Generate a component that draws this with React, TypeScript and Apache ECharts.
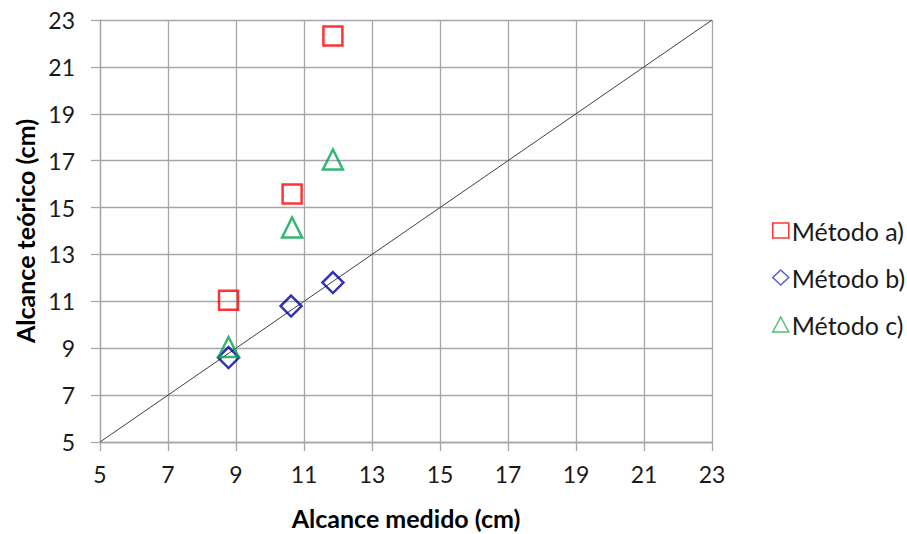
import React, { useEffect, useRef } from "react";
import * as echarts from "echarts";

const xTicks = [5, 7, 9, 11, 13, 15, 17, 19, 21, 23];
const metodoA: [number, number][] = [[8.78, 11.05], [10.65, 15.58], [11.85, 22.32]];
const metodoB: [number, number][] = [[8.78, 8.6], [10.62, 10.8], [11.85, 11.8]];
const metodoC: [number, number][] = [[8.78, 9.05], [10.65, 14.15], [11.85, 17.05]];
const identity: [number, number][] = [[5, 5], [23, 23]];

const FONT = "Lato";

export default function App() {
  const ref = useRef<HTMLDivElement>(null);
  useEffect(() => {
    if (!ref.current) return;
    const chart = echarts.init(ref.current, null, { renderer: "svg" });
    const axisCommon = {
      type: "value",
      min: xTicks[0],
      max: xTicks[xTicks.length - 1],
      interval: 2,
      axisLine: { show: true, lineStyle: { color: "#a6a6a6", width: 1.3 } },
      axisTick: { show: true, length: 9, lineStyle: { color: "#a6a6a6", width: 1.3 } },
      splitLine: { show: true, lineStyle: { color: "#a6a6a6", width: 1.3 } },
      nameLocation: "middle",
      nameTextStyle: { color: "#000", fontSize: 25, lineHeight: 24, fontWeight: "bold", fontFamily: FONT },
    };
    chart.setOption({
      animation: false,
      backgroundColor: "#fff",
      grid: { left: 100, right: 195, top: 20, bottom: 92, containLabel: false, outerBoundsMode: "none" },
      xAxis: {
        ...axisCommon,
        name: "Alcance medido (cm)",
        nameGap: 64,
        axisLabel: { color: "#1a1a1a", fontSize: 23, fontFamily: FONT, margin: 20 },
      },
      yAxis: {
        ...axisCommon,
        name: "Alcance teórico (cm)",
        nameGap: 62,
        axisLabel: { color: "#1a1a1a", fontSize: 23, fontFamily: FONT, margin: 25 },
      },
      legend: {
        orient: "vertical",
        left: 767,
        top: 213,
        itemGap: 22,
        itemWidth: 16,
        itemHeight: 15,
        textStyle: { fontSize: 25, fontFamily: FONT, color: "#1a1a1a", padding: [0, 0, 0, -2] },
        data: [
          { name: "Método a)", icon: "rect", itemStyle: { color: "#fff", borderColor: "#ff0000", borderWidth: 1.5 } },
          { name: "Método b)", icon: "diamond", itemStyle: { color: "#fff", borderColor: "#3333cc", borderWidth: 1.5 } },
          { name: "Método c)", icon: "triangle", itemStyle: { color: "#fff", borderColor: "#22b14c", borderWidth: 1.5 } },
        ],
      },
      series: [
        {
          name: "identity",
          type: "line",
          data: identity,
          symbol: "none",
          lineStyle: { color: "#404040", width: 1 },
          silent: true,
          z: 1,
        },
        {
          name: "Método a)",
          type: "scatter",
          data: metodoA,
          symbol: "rect",
          symbolSize: 19,
          itemStyle: { color: "rgba(255,255,255,0)", borderColor: "#ff0000", borderWidth: 2.5 },
          z: 3,
        },
        {
          name: "Método b)",
          type: "scatter",
          data: metodoB,
          symbol: "diamond",
          symbolSize: 21,
          itemStyle: { color: "rgba(255,255,255,0)", borderColor: "#0000a8", borderWidth: 2.5 },
          z: 3,
        },
        {
          name: "Método c)",
          type: "scatter",
          data: metodoC,
          symbol: "triangle",
          symbolSize: 20,
          itemStyle: { color: "rgba(255,255,255,0)", borderColor: "#00a550", borderWidth: 2.5 },
          z: 3,
        },
      ],
    });
    return () => chart.dispose();
  }, []);
  return <div ref={ref} style={{ width: 907, height: 534, position: "absolute", left: 0, top: 0 }} />;
}
